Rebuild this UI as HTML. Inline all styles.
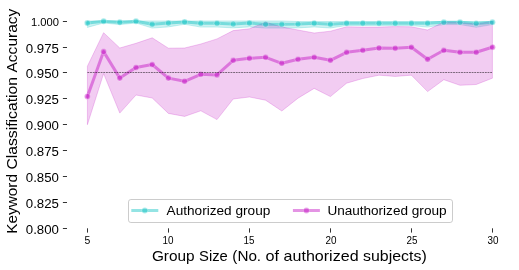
<!DOCTYPE html>
<html><head><meta charset="utf-8"><title>chart</title>
<style>
html,body{margin:0;padding:0;background:#fff;}
body{width:519px;height:270px;overflow:hidden;}
svg{display:block;}
text{font-family:"Liberation Sans",sans-serif;fill:#000;filter:grayscale(1);}
svg{will-change:transform;transform:translateZ(0);}
</style></head><body>
<svg width="519" height="270" viewBox="0 0 519 270">
<rect width="519" height="270" fill="#fff"/>
<g>
<polygon points="87.4,20.9 103.6,20.9 119.8,20.9 136.0,20.9 152.2,20.9 168.4,20.9 184.6,20.9 200.8,20.9 217.0,20.9 233.2,20.9 249.4,20.9 265.6,20.9 281.8,20.9 298.0,21.5 314.2,21.5 330.4,21.5 346.6,21.5 362.8,21.5 379.0,21.5 395.2,21.5 411.4,21.5 427.6,21.5 443.8,21.5 460.0,21.5 476.2,21.5 492.4,21.5 492.4,24.6 476.2,27.3 460.0,24.6 443.8,24.6 427.6,27.1 411.4,25.6 395.2,25.6 379.0,25.6 362.8,25.5 346.6,25.5 330.4,28.0 314.2,27.0 298.0,27.9 281.8,28.1 265.6,28.1 249.4,26.9 233.2,27.9 217.0,27.1 200.8,27.1 184.6,24.3 168.4,26.9 152.2,28.1 136.0,23.0 119.8,24.6 103.6,23.0 87.4,27.4" fill="#00bfbf" fill-opacity="0.2" stroke="#00bfbf" stroke-opacity="0.2" stroke-width="1" stroke-linejoin="miter"/>
<polygon points="87.4,66.2 103.6,32.7 119.8,48.0 136.0,43.3 152.2,37.8 168.4,48.2 184.6,48.0 200.8,44.0 217.0,38.9 233.2,30.6 249.4,28.8 265.6,22.2 281.8,27.0 298.0,30.0 314.2,33.0 330.4,31.2 346.6,26.8 362.8,27.1 379.0,27.1 395.2,26.6 411.4,26.8 427.6,30.0 443.8,22.0 460.0,22.4 476.2,24.0 492.4,21.4 492.4,78.2 476.2,84.5 460.0,85.3 443.8,79.7 427.6,91.6 411.4,75.2 395.2,76.4 379.0,75.2 362.8,78.5 346.6,83.2 330.4,96.6 314.2,88.4 298.0,98.2 281.8,111.0 265.6,100.2 249.4,97.0 233.2,99.0 217.0,119.6 200.8,110.8 184.6,116.4 168.4,113.4 152.2,98.0 136.0,95.0 119.8,113.1 103.6,73.6 87.4,124.7" fill="#bf00bf" fill-opacity="0.2" stroke="#bf00bf" stroke-opacity="0.2" stroke-width="1" stroke-linejoin="miter"/>
<polyline points="87.4,23.1 103.6,21.3 119.8,22.3 136.0,21.3 152.2,24.3 168.4,23.1 184.6,22.0 200.8,23.3 217.0,23.3 233.2,24.1 249.4,23.1 265.6,24.3 281.8,24.3 298.0,24.1 314.2,23.2 330.4,24.2 346.6,23.2 362.8,23.2 379.0,23.3 395.2,23.3 411.4,23.3 427.6,23.3 443.8,22.3 460.0,22.3 476.2,23.5 492.4,22.3" fill="none" stroke="#00bfbf" stroke-opacity="0.42" stroke-width="3" stroke-linejoin="round" stroke-linecap="square"/>
<g fill="#00bfbf" fill-opacity="0.42" stroke="#fff" stroke-opacity="0.42" stroke-width="0.75"><circle cx="87.4" cy="23.1" r="3"/><circle cx="103.6" cy="21.3" r="3"/><circle cx="119.8" cy="22.3" r="3"/><circle cx="136.0" cy="21.3" r="3"/><circle cx="152.2" cy="24.3" r="3"/><circle cx="168.4" cy="23.1" r="3"/><circle cx="184.6" cy="22.0" r="3"/><circle cx="200.8" cy="23.3" r="3"/><circle cx="217.0" cy="23.3" r="3"/><circle cx="233.2" cy="24.1" r="3"/><circle cx="249.4" cy="23.1" r="3"/><circle cx="265.6" cy="24.3" r="3"/><circle cx="281.8" cy="24.3" r="3"/><circle cx="298.0" cy="24.1" r="3"/><circle cx="314.2" cy="23.2" r="3"/><circle cx="330.4" cy="24.2" r="3"/><circle cx="346.6" cy="23.2" r="3"/><circle cx="362.8" cy="23.2" r="3"/><circle cx="379.0" cy="23.3" r="3"/><circle cx="395.2" cy="23.3" r="3"/><circle cx="411.4" cy="23.3" r="3"/><circle cx="427.6" cy="23.3" r="3"/><circle cx="443.8" cy="22.3" r="3"/><circle cx="460.0" cy="22.3" r="3"/><circle cx="476.2" cy="23.5" r="3"/><circle cx="492.4" cy="22.3" r="3"/></g>
<polyline points="87.4,96.5 103.6,51.6 119.8,78.1 136.0,67.5 152.2,64.5 168.4,78.1 184.6,81.3 200.8,74.3 217.0,74.9 233.2,60.3 249.4,58.3 265.6,57.3 281.8,63.3 298.0,59.3 314.2,57.3 330.4,60.3 346.6,52.3 362.8,50.3 379.0,48.0 395.2,48.2 411.4,47.2 427.6,59.3 443.8,50.3 460.0,52.3 476.2,52.3 492.4,47.2" fill="none" stroke="#bf00bf" stroke-opacity="0.42" stroke-width="3" stroke-linejoin="round" stroke-linecap="square"/>
<g fill="#bf00bf" fill-opacity="0.42" stroke="#fff" stroke-opacity="0.42" stroke-width="0.75"><circle cx="87.4" cy="96.5" r="3"/><circle cx="103.6" cy="51.6" r="3"/><circle cx="119.8" cy="78.1" r="3"/><circle cx="136.0" cy="67.5" r="3"/><circle cx="152.2" cy="64.5" r="3"/><circle cx="168.4" cy="78.1" r="3"/><circle cx="184.6" cy="81.3" r="3"/><circle cx="200.8" cy="74.3" r="3"/><circle cx="217.0" cy="74.9" r="3"/><circle cx="233.2" cy="60.3" r="3"/><circle cx="249.4" cy="58.3" r="3"/><circle cx="265.6" cy="57.3" r="3"/><circle cx="281.8" cy="63.3" r="3"/><circle cx="298.0" cy="59.3" r="3"/><circle cx="314.2" cy="57.3" r="3"/><circle cx="330.4" cy="60.3" r="3"/><circle cx="346.6" cy="52.3" r="3"/><circle cx="362.8" cy="50.3" r="3"/><circle cx="379.0" cy="48.0" r="3"/><circle cx="395.2" cy="48.2" r="3"/><circle cx="411.4" cy="47.2" r="3"/><circle cx="427.6" cy="59.3" r="3"/><circle cx="443.8" cy="50.3" r="3"/><circle cx="460.0" cy="52.3" r="3"/><circle cx="476.2" cy="52.3" r="3"/><circle cx="492.4" cy="47.2" r="3"/></g>
<line x1="87.4" y1="72.5" x2="492.6" y2="72.5" stroke="#000" stroke-width="0.5" stroke-dasharray="1.85 0.8"/>
<g stroke="#000" stroke-width="0.8">
<line x1="62.9" y1="21.5" x2="67.0" y2="21.5"/>
<line x1="62.9" y1="47.5" x2="67.0" y2="47.5"/>
<line x1="62.9" y1="72.5" x2="67.0" y2="72.5"/>
<line x1="62.9" y1="98.5" x2="67.0" y2="98.5"/>
<line x1="62.9" y1="124.5" x2="67.0" y2="124.5"/>
<line x1="62.9" y1="150.5" x2="67.0" y2="150.5"/>
<line x1="62.9" y1="176.5" x2="67.0" y2="176.5"/>
<line x1="62.9" y1="202.5" x2="67.0" y2="202.5"/>
<line x1="62.9" y1="228.5" x2="67.0" y2="228.5"/>
<line x1="87.5" y1="228.3" x2="87.5" y2="232.6"/>
<line x1="168.5" y1="228.3" x2="168.5" y2="232.6"/>
<line x1="249.5" y1="228.3" x2="249.5" y2="232.6"/>
<line x1="330.5" y1="228.3" x2="330.5" y2="232.6"/>
<line x1="411.5" y1="228.3" x2="411.5" y2="232.6"/>
<line x1="492.5" y1="228.3" x2="492.5" y2="232.6"/>
</g>
<text x="59" y="26.0" font-size="11.4" text-anchor="end" textLength="28" lengthAdjust="spacingAndGlyphs">1.000</text>
<text x="58.9" y="52.8" font-size="12.3" text-anchor="end" textLength="33.1" lengthAdjust="spacingAndGlyphs">0.975</text>
<text x="58.9" y="77.8" font-size="12.3" text-anchor="end" textLength="33.1" lengthAdjust="spacingAndGlyphs">0.950</text>
<text x="58.9" y="103.8" font-size="12.3" text-anchor="end" textLength="33.1" lengthAdjust="spacingAndGlyphs">0.925</text>
<text x="58.9" y="129.8" font-size="12.3" text-anchor="end" textLength="33.1" lengthAdjust="spacingAndGlyphs">0.900</text>
<text x="58.9" y="155.8" font-size="12.3" text-anchor="end" textLength="33.1" lengthAdjust="spacingAndGlyphs">0.875</text>
<text x="58.9" y="181.8" font-size="12.3" text-anchor="end" textLength="33.1" lengthAdjust="spacingAndGlyphs">0.850</text>
<text x="58.9" y="207.8" font-size="12.3" text-anchor="end" textLength="33.1" lengthAdjust="spacingAndGlyphs">0.825</text>
<text x="58.9" y="233.8" font-size="12.3" text-anchor="end" textLength="33.1" lengthAdjust="spacingAndGlyphs">0.800</text>
<text x="87.5" y="243.8" font-size="10.3" text-anchor="middle" textLength="5.8" lengthAdjust="spacingAndGlyphs">5</text>
<text x="167.9" y="243.8" font-size="10.3" text-anchor="middle" textLength="11.0" lengthAdjust="spacingAndGlyphs">10</text>
<text x="248.9" y="243.8" font-size="10.3" text-anchor="middle" textLength="11.0" lengthAdjust="spacingAndGlyphs">15</text>
<text x="330.9" y="243.8" font-size="10.3" text-anchor="middle" textLength="11.0" lengthAdjust="spacingAndGlyphs">20</text>
<text x="411.9" y="243.8" font-size="10.3" text-anchor="middle" textLength="11.0" lengthAdjust="spacingAndGlyphs">25</text>
<text x="492.9" y="243.8" font-size="10.3" text-anchor="middle" textLength="11.0" lengthAdjust="spacingAndGlyphs">30</text>
<text x="151.90" y="261" font-size="14.4" textLength="42.71" lengthAdjust="spacingAndGlyphs">Group</text>
<text x="199.07" y="261" font-size="14.4" textLength="28.80" lengthAdjust="spacingAndGlyphs">Size</text>
<text x="232.34" y="261" font-size="14.4" textLength="28.77" lengthAdjust="spacingAndGlyphs">(No.</text>
<text x="265.57" y="261" font-size="14.4" textLength="13.52" lengthAdjust="spacingAndGlyphs">of</text>
<text x="283.55" y="261" font-size="14.4" textLength="75.05" lengthAdjust="spacingAndGlyphs">authorized</text>
<text x="363.06" y="261" font-size="14.4" textLength="63.64" lengthAdjust="spacingAndGlyphs">subjects)</text>
<g transform="translate(17.1 121.2) rotate(-90)">
<text x="-112.65" y="0" font-size="14.4" textLength="59.80" lengthAdjust="spacingAndGlyphs">Keyword</text>
<text x="-48.40" y="0" font-size="14.4" textLength="92.63" lengthAdjust="spacingAndGlyphs">Classification</text>
<text x="48.68" y="0" font-size="14.4" textLength="63.92" lengthAdjust="spacingAndGlyphs">Accuracy</text>
</g>
<rect x="128.5" y="199.5" width="324" height="23" rx="2.4" ry="2.4" fill="#fff" fill-opacity="0.8" stroke="#ccc" stroke-width="1"/>
<line x1="132.8" y1="210.5" x2="156.8" y2="210.5" stroke="#00bfbf" stroke-opacity="0.42" stroke-width="3" stroke-linecap="square"/><circle cx="144.8" cy="210.5" r="3" fill="#00bfbf" fill-opacity="0.42" stroke="#fff" stroke-opacity="0.42" stroke-width="0.75"/>
<line x1="294.4" y1="210.5" x2="318.4" y2="210.5" stroke="#bf00bf" stroke-opacity="0.42" stroke-width="3" stroke-linecap="square"/><circle cx="306.4" cy="210.5" r="3" fill="#bf00bf" fill-opacity="0.42" stroke="#fff" stroke-opacity="0.42" stroke-width="0.75"/>
<text x="166.60" y="214.5" font-size="12.3" textLength="65.04" lengthAdjust="spacingAndGlyphs">Authorized</text>
<text x="235.45" y="214.5" font-size="12.3" textLength="34.85" lengthAdjust="spacingAndGlyphs">group</text>
<text x="327.40" y="214.5" font-size="12.3" textLength="80.57" lengthAdjust="spacingAndGlyphs">Unauthorized</text>
<text x="411.78" y="214.5" font-size="12.3" textLength="34.85" lengthAdjust="spacingAndGlyphs">group</text>
</g></svg></body></html>
